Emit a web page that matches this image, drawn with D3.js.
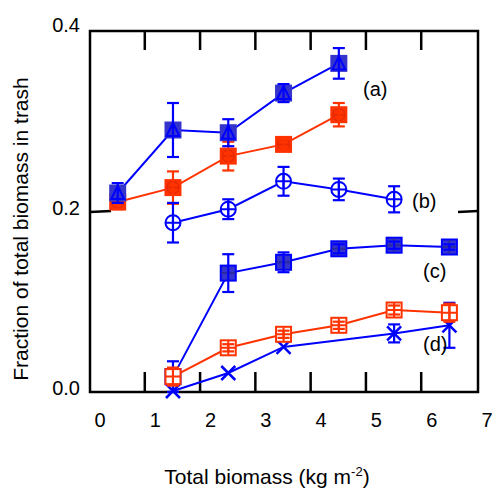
<!DOCTYPE html>
<html>
<head>
<meta charset="utf-8">
<script src="https://cdn.jsdelivr.net/npm/d3@7"></script>
<style>
body { margin: 0; background: #fff; }
text { font-family: "Liberation Sans", Arial, sans-serif; fill: #000; }
</style>
</head>
<body>
<svg width="492" height="488"></svg>
<script>
// x positions of the biomass classes
var biomass = [0.32, 1.32, 2.32, 3.32, 4.32, 5.32, 6.32];

// (a) upper blue series (filled square + triangle)
var aBlue = [0.220, 0.290, 0.287, 0.331, 0.364];
var aBlueErr = [0.011, 0.030, 0.015, 0.010, 0.017];
// (a) red series (filled square + circle)
var aRed = [0.210, 0.226, 0.261, 0.274, 0.307];
var aRedErr = [0.008, 0.018, 0.016, 0.006, 0.013];
// (b) open circles, starting at class 1
var bVals = [null, 0.187, 0.202, 0.233, 0.224, 0.213];
var bErr = [null, 0.022, 0.011, 0.016, 0.012, 0.0145];
// (c) filled squares
var cVals = [null, 0.016, 0.131, 0.143, 0.158, 0.162, 0.160];
var cErr = [null, 0.017, 0.021, 0.011, 0.005, 0.004, 0.003];
// (d) open red squares
var dVals = [null, 0.016, 0.048, 0.063, 0.073, 0.090, 0.087];
var dErr = [null, 0.010, 0.004, 0.004, 0.004, 0.005, 0.010];
// (d) blue crosses
var xVals = [null, 0.000, 0.020, 0.049, null, 0.064, 0.073];
var xErr = [null, 0, 0, 0, null, 0.010, 0.025];

var xTicks = [0, 1, 2, 3, 4, 5, 6, 7];
var yTicks = [0, 0.2, 0.4];
var labels = ["(a)", "(b)", "(c)", "(d)"];

var blue = "#0000ff", blueFill = "#3535cc", red = "#ff3300";

var svg = d3.select("svg");

var x = d3.scaleLinear().domain([0, 7]).range([100, 487]);
var y = d3.scaleLinear().domain([0, 0.4]).range([391, 31]);

var frame = {left: 90, right: 478, top: 31, bottom: 392};

// frame
svg.append("rect")
    .attr("x", frame.left).attr("y", frame.top)
    .attr("width", frame.right - frame.left).attr("height", frame.bottom - frame.top)
    .attr("fill", "none").attr("stroke", "#000").attr("stroke-width", 2.5);

// x ticks sit a bit left of their labels, as in the original
xTicks.slice(1, 7).forEach(function (k) {
    var tx = x(k) - 10.5;
    svg.append("line").attr("x1", tx).attr("x2", tx).attr("y1", frame.bottom).attr("y2", frame.bottom - 20)
        .attr("stroke", "#000").attr("stroke-width", 2.5);
    svg.append("line").attr("x1", tx).attr("x2", tx).attr("y1", frame.top).attr("y2", frame.top + 19)
        .attr("stroke", "#000").attr("stroke-width", 2.5);
});
svg.append("line").attr("x1", frame.left).attr("x2", frame.left + 21).attr("y1", y(0.2) + 1).attr("y2", y(0.2))
    .attr("stroke", "#000").attr("stroke-width", 2.5);
svg.append("line").attr("x1", frame.right).attr("x2", frame.right - 20).attr("y1", y(0.2)).attr("y2", y(0.2) + 1)
    .attr("stroke", "#000").attr("stroke-width", 2.5);

svg.selectAll(".xlab").data(xTicks).enter().append("text")
    .attr("class", "xlab")
    .attr("x", function (d) { return x(d); })
    .attr("y", 427)
    .attr("text-anchor", "middle")
    .style("font-size", "20px")
    .text(function (d) { return d; });

svg.selectAll(".ylab").data(yTicks).enter().append("text")
    .attr("class", "ylab")
    .attr("x", 80)
    .attr("y", function (d) { return d === 0.4 ? y(d) + 1 : y(d) + 4; })
    .attr("text-anchor", "end")
    .style("font-size", "20px")
    .text(d3.format(".1f"));

// axis titles
var xt = svg.append("text")
    .attr("x", 267).attr("y", 484)
    .attr("text-anchor", "middle")
    .style("font-size", "21px")
    .text("Total biomass (kg m");
xt.append("tspan").attr("dy", -8).style("font-size", "13px").text("-2");
xt.append("tspan").attr("dy", 8).text(")");

svg.append("text")
    .attr("transform", "translate(28,229) rotate(-90)")
    .attr("text-anchor", "middle")
    .style("font-size", "21px")
    .text("Fraction of total biomass in trash");

function toPoints(vals, errs) {
    var pts = [];
    vals.forEach(function (v, i) {
        if (v !== null) pts.push({ x: biomass[i], y: v, e: errs[i] });
    });
    return pts;
}

var line = d3.line()
    .x(function (d) { return x(d.x); })
    .y(function (d) { return y(d.y); });

function drawSeries(pts, color, marker) {
    var g = svg.append("g");
    g.append("path")
        .attr("d", line(pts))
        .attr("fill", "none")
        .attr("stroke", color)
        .attr("stroke-width", 2);

    var m = g.selectAll(".m").data(pts).enter().append("g")
        .attr("transform", function (d) { return "translate(" + x(d.x) + "," + y(d.y) + ")"; });
    marker(m);

    // error bars on top
    var eb = g.selectAll(".e").data(pts.filter(function (d) { return d.e > 0; })).enter().append("g")
        .attr("stroke", color).attr("stroke-width", 2.2);
    eb.append("line")
        .attr("x1", function (d) { return x(d.x); })
        .attr("x2", function (d) { return x(d.x); })
        .attr("y1", function (d) { return y(d.y + d.e); })
        .attr("y2", function (d) { return y(d.y - d.e); });
    [1, -1].forEach(function (s) {
        eb.append("line")
            .attr("x1", function (d) { return x(d.x) - 6; })
            .attr("x2", function (d) { return x(d.x) + 6; })
            .attr("y1", function (d) { return y(d.y + s * d.e); })
            .attr("y2", function (d) { return y(d.y + s * d.e); });
    });
}

function square(m, fill, stroke) {
    m.append("rect").attr("x", -7.5).attr("y", -7.5).attr("width", 15).attr("height", 15)
        .attr("fill", fill).attr("stroke", stroke).attr("stroke-width", 2);
}
function plus(m, color, r) {
    m.append("path").attr("d", "M" + (-r) + ",0H" + r + "M0," + (-r) + "V" + r)
        .attr("stroke", color).attr("stroke-width", 2).attr("fill", "none");
}

drawSeries(toPoints(aRed, aRedErr), red, function (m) {
    square(m, red, red);
    m.append("circle").attr("r", 6).attr("fill", "none").attr("stroke", "#e82a00").attr("stroke-width", 1.5);
    plus(m, "#e82a00", 6);
});

drawSeries(toPoints(aBlue, aBlueErr), blue, function (m) {
    square(m, blueFill, blueFill);
    m.append("path").attr("d", "M0,-7L6.5,6L-6.5,6Z")
        .attr("fill", "none").attr("stroke", blue).attr("stroke-width", 2);
});

drawSeries(toPoints(bVals, bErr), blue, function (m) {
    m.append("circle").attr("r", 7.5).attr("fill", "#fff").attr("stroke", blue).attr("stroke-width", 2);
    plus(m, blue, 7.5);
});

drawSeries(toPoints(cVals, cErr), blue, function (m) {
    square(m, blueFill, blue);
    plus(m, "#2a2aa0", 7);
});

drawSeries(toPoints(xVals, xErr), blue, function (m) {
    m.append("path").attr("d", "M-7,-7L7,7M-7,7L7,-7")
        .attr("stroke", blue).attr("stroke-width", 2.5).attr("fill", "none");
});

drawSeries(toPoints(dVals, dErr), red, function (m) {
    square(m, "#fff", red);
    plus(m, red, 7);
});

// series labels
var labelPos = [[363, 96], [412, 208], [423, 278], [423, 351]];
svg.selectAll(".lab").data(labels).enter().append("text")
    .attr("class", "lab")
    .attr("x", function (d, i) { return labelPos[i][0]; })
    .attr("y", function (d, i) { return labelPos[i][1]; })
    .style("font-size", "20px")
    .text(function (d) { return d; });
</script>
</body>
</html>
